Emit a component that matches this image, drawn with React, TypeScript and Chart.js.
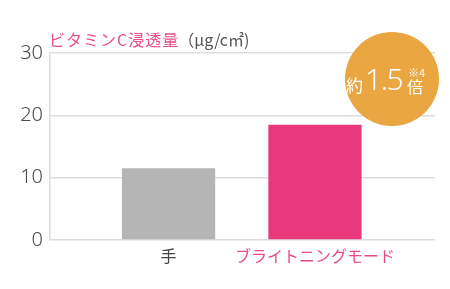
import React, { useEffect, useRef } from "react";
import { Chart, registerables } from "chart.js";

Chart.register(...registerables);

const categories = ["手", "ブライトニングモード"];
const values = [11.5, 18.5];
const barColors = ["#b5b5b5", "#e8397c"];
const labelColors = ["#444444", "#e84a88"];
const yTicks = [0, 10, 20, 30];
const titleMain = "ビタミンC浸透量";
const titleUnit = "（μg/c㎡)";
const badgePrefix = "約";
const badgeValue = "1.5";
const badgeNote = "※4";
const badgeSuffix = "倍";

const JP = '"Noto Sans CJK JP", "Noto Sans", sans-serif';
const NUM = '"Noto Sans", "Noto Sans CJK JP", sans-serif';

const overlayPlugin = {
  id: "overlay",
  afterDraw(chart: any) {
    const ctx = chart.ctx as any;
    const area = chart.chartArea;
    ctx.save();
    // title
    ctx.textBaseline = "alphabetic";
    ctx.textAlign = "left";
    ctx.font = `16px ${JP}`;
    ctx.letterSpacing = "1px";
    ctx.fillStyle = "#e8508a";
    const tx = area.left - 1;
    const ty = 46;
    ctx.fillText(titleMain, tx, ty);
    const w1 = ctx.measureText(titleMain).width;
    ctx.letterSpacing = "0px";
    ctx.font = `16px ${JP}`;
    ctx.fillStyle = "#555555";
    ctx.fillText(titleUnit, tx + w1 - 1, ty);

    // badge
    const cx = area.right - 43;
    const cy = 79;
    const r = 47;
    ctx.beginPath();
    ctx.arc(cx, cy, r, 0, Math.PI * 2);
    ctx.fillStyle = "#e9a641";
    ctx.fill();
    ctx.fillStyle = "#ffffff";
    ctx.font = `17px ${JP}`;
    ctx.fillText(badgePrefix, cx - 46, cy + 13);
    ctx.font = `300 30px ${NUM}`;
    ctx.letterSpacing = "-1.5px";
    ctx.fillText(badgeValue, cx - 27, cy + 11);
    ctx.letterSpacing = "0px";
    ctx.font = `11px ${JP}`;
    ctx.fillText(badgeNote, cx + 16, cy - 2);
    ctx.font = `16px ${JP}`;
    ctx.fillText(badgeSuffix, cx + 15, cy + 14);
    ctx.restore();
  },
};

export default function App() {
  const ref = useRef<HTMLCanvasElement | null>(null);
  useEffect(() => {
    if (!ref.current) return;
    const chart = new Chart(ref.current, {
      type: "bar",
      data: {
        datasets: [
          {
            data: values.map((v, i) => ({ x: i + 1, y: v })),
            backgroundColor: barColors,
            borderWidth: 0,
            barPercentage: 0.7,
            categoryPercentage: 0.91,
          },
        ],
      },
      options: {
        responsive: false,
        animation: false,
        layout: { padding: { top: 53, right: 15, left: 0, bottom: 0 } },
        plugins: {
          legend: { display: false },
          tooltip: { enabled: false },
        },
        scales: {
          x: {
            type: "linear",
            min: 0.19,
            max: 2.82,
            offset: false,
            grid: { display: false, drawTicks: false },
            border: { display: false },
            afterBuildTicks: (scale: any) => {
              scale.ticks = categories.map((_, i) => ({ value: i + 1 }));
            },
            afterFit: (scale: any) => {
              scale.height = 49;
            },
            ticks: {
              autoSkip: false,
              maxRotation: 0,
              padding: 6,
              font: { family: JP, size: 16 },
              color: (c: any) => labelColors[c.index] ?? "#444",
              callback: (v: any) => categories[Math.round(Number(v)) - 1] ?? "",
            },
          },
          y: {
            min: 0,
            max: 30,
            afterBuildTicks: (scale: any) => {
              scale.ticks = yTicks.map((v) => ({ value: v }));
            },
            afterFit: (scale: any) => {
              scale.width = 50;
            },
            grid: { color: "#dddddd", lineWidth: 1.5, drawTicks: false },
            border: { display: true, color: "#dddddd", width: 1.5 },
            ticks: {
              padding: 7,
              font: { family: NUM, size: 20, weight: 300 },
              color: "#4a4a4a",
            },
          },
        },
      },
      plugins: [overlayPlugin],
    } as any);
    return () => chart.destroy();
  }, []);
  return (
    <div style={{ position: "fixed", left: 0, top: 0, width: 450, height: 289, background: "#fff" }}>
      <canvas ref={ref} width={450} height={289} style={{ display: "block" }} />
    </div>
  );
}
